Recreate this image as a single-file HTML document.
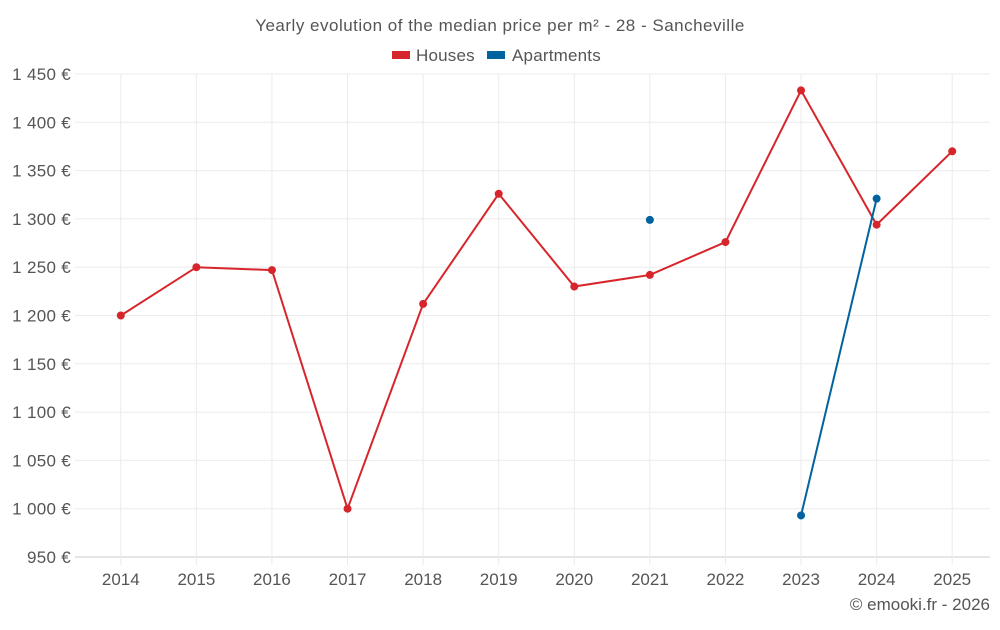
<!DOCTYPE html>
<html><head><meta charset="utf-8">
<style>
body{margin:0;background:#fff;font-family:"Liberation Sans",sans-serif;}
svg text{font-family:"Liberation Sans",sans-serif;}
</style></head>
<body>
<svg id="chart" width="1000" height="625" xmlns="http://www.w3.org/2000/svg">
<text x="500" y="31" text-anchor="middle" font-size="17" letter-spacing="0.5" fill="#555">Yearly evolution of the median price per m² - 28 - Sancheville</text>
<g><rect x="392" y="51" width="18" height="8" fill="#d7262b"/><text x="416" y="61" font-size="17" letter-spacing="0.2" fill="#555">Houses</text></g>
<g><rect x="487" y="51" width="18" height="8" fill="#00639e"/><text x="512" y="61" font-size="17" letter-spacing="0.2" fill="#555">Apartments</text></g>
<g id="grid"></g><g id="axes"></g><g id="series"></g>
<text x="990" y="610" text-anchor="end" font-size="17" fill="#555">© emooki.fr - 2026</text>
</svg>
<script>
const categories=["2014","2015","2016","2017","2018","2019","2020","2021","2022","2023","2024","2025"];
const houses=[1200,1250,1247,1000,1212,1326,1230,1242,1276,1433,1294,1370];
const apartments=[null,null,null,null,null,null,null,1299,null,993,1321,null];
const yTicks=[950,1000,1050,1100,1150,1200,1250,1300,1350,1400,1450];
const L=83,R=990,T=74,B=557,yMin=950,yMax=1450;
const NS="http://www.w3.org/2000/svg";
const bw=(R-L)/categories.length;
function x(i){return L+bw*(i+0.5);}
function y(v){return B-(v-yMin)/(yMax-yMin)*(B-T);}
function mk(tag,attrs,parent){const e=document.createElementNS(NS,tag);for(const k in attrs)e.setAttribute(k,attrs[k]);parent.appendChild(e);return e;}
const grid=document.getElementById('grid'),axes=document.getElementById('axes'),ser=document.getElementById('series');
yTicks.forEach(v=>{
  const l=mk('line',{x1:L-8,x2:R,y1:y(v),y2:y(v),stroke:v===yMin?'#ccc':'#ebebeb'},grid);
  
  
  const t=mk('text',{x:71,y:y(v)+6,'text-anchor':'end','font-size':17,'letter-spacing':0.3,fill:'#555'},axes);
  t.textContent=v.toLocaleString('fr-FR').replace(/\s/g,' ')+' €';
  
  
});
categories.forEach((c,i)=>{
  const l=mk('line',{x1:x(i),x2:x(i),y1:T,y2:B+8,stroke:'#ebebeb'},grid);
  
  
  const t=mk('text',{x:x(i),y:585,'text-anchor':'middle','font-size':17,fill:'#555'},axes);
  t.textContent=c;
  
  
});
function draw(data,color,name){
  let d='',pen=false;
  data.forEach((v,i)=>{if(v==null){pen=false;return;}d+=(pen?'L':'M')+x(i)+' '+y(v)+' ';pen=true;});
  const p=mk('path',{d:d,fill:'none',stroke:color,'stroke-width':2},ser);
  
  
  data.forEach((v,i)=>{if(v==null)return;
    const c=mk('circle',{cx:x(i),cy:y(v),r:4,fill:color},ser);
    
    
  });
}
draw(houses,'#d7262b','houses');
draw(apartments,'#00639e','apartments');
</script>
</body></html>
